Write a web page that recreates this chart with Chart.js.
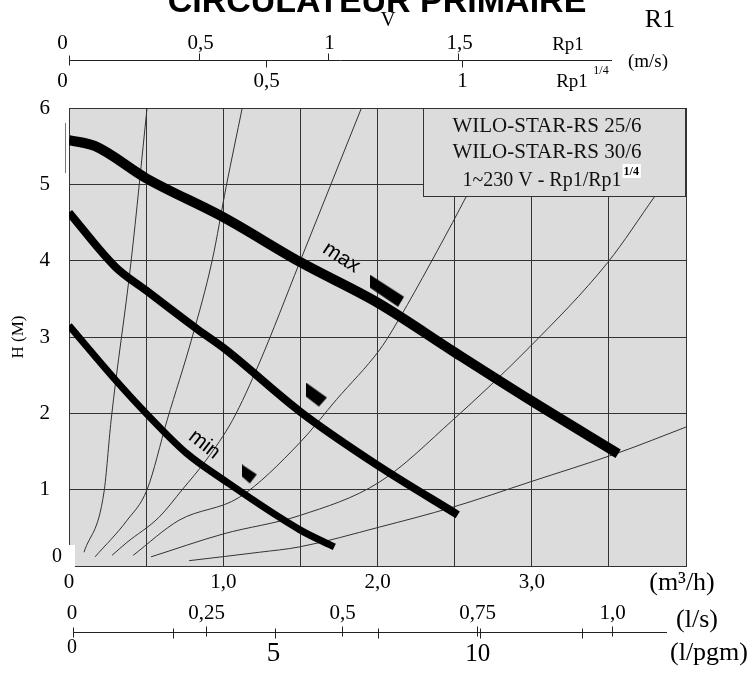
<!DOCTYPE html>
<html><head><meta charset="utf-8">
<script src="https://cdn.jsdelivr.net/npm/chart.js@4/dist/chart.umd.min.js"></script>
<style>html,body{margin:0;padding:0;background:#fff;}canvas{display:block;}</style>
</head><body>
<canvas id="c" width="752" height="673"></canvas>
<script>
// ---- pump curves (flow m3/h, head m) ----
const maxQ = [0, 0.17, 0.5, 1.0, 1.5, 2.0, 2.5, 3.0, 3.56];
const maxH = [5.58, 5.5, 5.08, 4.57, 3.98, 3.45, 2.8, 2.16, 1.47];
const midQ = [0, 0.3, 0.5, 0.84, 1.0, 1.5, 2.0, 2.52];
const midH = [4.63, 3.92, 3.61, 3.09, 2.86, 2.02, 1.32, 0.67];
const minQ = [0, 0.3, 0.5, 0.76, 1.0, 1.5, 1.72];
const minH = [3.15, 2.44, 2.0, 1.48, 1.13, 0.47, 0.25];
// ---- system curves ----
const sysAQ = [0.097, 0.227, 0.273, 0.403, 0.506];
const sysAH = [0.18, 0.97, 1.91, 4.0, 6.0];
const sysBQ = [0.169, 0.377, 0.506, 0.636, 0.799, 0.929, 1.019, 1.123];
const sysBH = [0.12, 0.60, 1.0, 1.91, 3.0, 4.01, 4.97, 6.0];
const sysCQ = [0.279, 0.37, 0.584, 0.734, 0.89, 1.06, 1.234, 1.494, 1.896];
const sysCH = [0.14, 0.30, 0.64, 1.0, 1.39, 1.91, 2.66, 3.97, 6.0];
const sysDQ = [0.416, 0.714, 1.104, 1.494, 1.734, 2.013, 2.097, 2.487, 2.578, 2.9];
const sysDH = [0.14, 0.60, 0.90, 1.61, 2.18, 2.83, 3.09, 4.5, 4.85, 6.0];
const sysEQ = [0.532, 1.0, 1.494, 2.013, 2.487, 2.987, 3.494, 3.8];
const sysEH = [0.12, 0.42, 0.66, 1.10, 1.91, 2.87, 3.98, 4.85];
const sysFQ = [0.779, 1.234, 1.494, 2.013, 2.487, 2.987, 3.558, 4.0];
const sysFH = [0.07, 0.18, 0.25, 0.51, 0.77, 1.10, 1.48, 1.82];
// ---- best-point markers ----
const markQ = [2.065, 1.607, 1.172];
const markH = [3.60, 2.24, 1.20];
// ---- tick labels ----
const flowTickValues = [0, 1, 2, 3];
const flowTickLabels = ['0', '1,0', '2,0', '3,0'];
const lsValues = [0, 0.25, 0.5, 0.75, 1.0];
const lsLabels = ['0', '0,25', '0,5', '0,75', '1,0'];
const gpmTicks = [0, 2.5, 5, 7.5, 10, 12.5];
const gpmLabelValues = [0, 5, 10];
const gpmLabels = ['0', '5', '10'];
const vRp1Values = [0, 0.5, 1, 1.5];
const vRp1Labels = ['0', '0,5', '1', '1,5'];
const vRp114Values = [0, 0.5, 1];
const vRp114Labels = ['0', '0,5', '1'];
// conversion factors to m3/h as drawn on the sheet
const Q_PER_LS = 3.51, Q_PER_GPM = 0.265, Q_PER_MS_RP1 = 1.68, Q_PER_MS_RP114 = 2.55;

const SERIF = "'Liberation Serif', 'Times New Roman', serif";
const SANS = "'Liberation Sans', Arial, sans-serif";
const pts = (q, h) => q.map((v, i) => ({x: v, y: h[i]}));

function mkMarker(w, h, poly) {
  const c = document.createElement('canvas'); c.width = w; c.height = h;
  const g = c.getContext('2d'); g.fillStyle = '#000'; g.beginPath();
  poly.forEach((p, i) => i ? g.lineTo(p[0], p[1]) : g.moveTo(p[0], p[1]));
  g.closePath(); g.fill(); return c;
}
const markerStyles = [
  mkMarker(35, 33, [[0,0],[0,13],[28,32],[34,22]]),
  mkMarker(22, 25, [[0,0],[0,14],[13,24],[21,15]]),
  mkMarker(16, 20, [[0,0],[0,12],[8,19],[15,10]])
];

const thick = (q, h, w) => ({data: pts(q, h), borderColor: '#000', borderWidth: w, pointRadius: 0, cubicInterpolationMode: 'monotone', fill: false, borderCapStyle: 'butt', borderJoinStyle: 'round', order: 1});
const thin = (q, h) => ({data: pts(q, h), borderColor: '#333', borderWidth: 1, pointRadius: 0, cubicInterpolationMode: 'monotone', fill: false, order: 2});

const decor = {
  id: 'decor',
  beforeDraw(chart) {
    const {ctx, chartArea: a} = chart;
    ctx.save(); ctx.fillStyle = '#dcdcdc';
    ctx.fillRect(a.left, a.top, a.right - a.left, a.bottom - a.top);
    ctx.restore();
  },
  afterDatasetsDraw(chart) {
    const {ctx, chartArea: a, scales} = chart;
    const xs = scales.x, ys = scales.y;
    ctx.save();
    // curve labels
    ctx.fillStyle = '#000'; ctx.font = '21px ' + SANS; ctx.textAlign = 'center'; ctx.textBaseline = 'middle';
    ctx.save(); ctx.translate(xs.getPixelForValue(1.766), ys.getPixelForValue(4.04)); ctx.rotate(33 * Math.PI / 180); ctx.fillText('max', 0, 0); ctx.restore();
    ctx.save(); ctx.translate(xs.getPixelForValue(0.877), ys.getPixelForValue(1.59)); ctx.rotate(38 * Math.PI / 180); ctx.fillText('min', 0, 0); ctx.restore();
    // legend box
    const bl = 423, bb = 196;
    ctx.fillStyle = '#dcdcdc'; ctx.fillRect(bl, a.top, a.right - bl, bb - a.top);
    ctx.strokeStyle = '#333'; ctx.lineWidth = 1; ctx.strokeRect(bl + 0.5, a.top + 0.5, a.right - bl - 1, bb - a.top);
    ctx.fillStyle = '#111'; ctx.font = '21px ' + SERIF;
    ctx.fillText('WILO-STAR-RS 25/6', 547, 126);
    ctx.fillText('WILO-STAR-RS 30/6', 547, 152);
    ctx.textAlign = 'left'; ctx.font = '20px ' + SERIF;
    const t3 = '1~230 V - Rp1/Rp1'; const w3 = ctx.measureText(t3).width;
    const x3 = 542 - w3 / 2;
    ctx.fillText(t3, x3, 181);
    ctx.font = 'bold 12px ' + SERIF;
    const ws = ctx.measureText('1/4').width;
    ctx.fillStyle = '#fff'; ctx.fillRect(x3 + w3 + 1, 164, ws + 3, 14);
    ctx.fillStyle = '#000'; ctx.fillText('1/4', x3 + w3 + 2, 172);
    // white corner with 0
    ctx.fillStyle = '#fff'; ctx.fillRect(45, 545, 30, 22);
    ctx.fillStyle = '#000'; ctx.font = '20px ' + SERIF; ctx.textAlign = 'center';
    ctx.fillText('0', 57, 557);
    // small side mark
    ctx.strokeStyle = '#777'; ctx.beginPath(); ctx.moveTo(65.5, 123); ctx.lineTo(65.5, 173); ctx.stroke();
    ctx.restore();
  },
  afterDraw(chart) {
    const {ctx, scales} = chart;
    const xs = scales.x;
    const px = q => xs.getPixelForValue(q);
    ctx.save();
    ctx.fillStyle = '#000'; ctx.strokeStyle = '#222'; ctx.lineWidth = 1;
    ctx.textAlign = 'center'; ctx.textBaseline = 'middle';
    // title
    ctx.font = 'bold 34px ' + SANS; ctx.textBaseline = 'alphabetic';
    ctx.fillText('CIRCULATEUR PRIMAIRE', 377, 12);
    ctx.textBaseline = 'middle';
    ctx.font = '21px ' + SERIF; ctx.fillText('V', 388, 20);
    ctx.font = '26px ' + SERIF; ctx.fillText('R1', 660, 20);
    // top velocity axis
    const ty = 60.5;
    ctx.beginPath(); ctx.moveTo(px(0), ty); ctx.lineTo(612, ty); ctx.stroke();
    ctx.beginPath(); ctx.moveTo(px(0) + 0.5, ty - 5); ctx.lineTo(px(0) + 0.5, ty + 5); ctx.stroke();
    ctx.font = '21px ' + SERIF;
    vRp1Values.forEach((v, i) => {
      const x = Math.round(px(v * Q_PER_MS_RP1)) + 0.5;
      if (v > 0) { ctx.beginPath(); ctx.moveTo(x, ty); ctx.lineTo(x, ty - 7); ctx.stroke(); }
      ctx.fillText(vRp1Labels[i], v === 0 ? x - 7 : x + 1, 43);
    });
    vRp114Values.forEach((v, i) => {
      const x = Math.round(px(v * Q_PER_MS_RP114)) + 0.5;
      if (v > 0) { ctx.beginPath(); ctx.moveTo(x, ty); ctx.lineTo(x, ty + 7); ctx.stroke(); }
      ctx.fillText(vRp114Labels[i], v === 0 ? x - 7 : x, 81);
    });
    ctx.font = '19px ' + SERIF;
    ctx.fillText('Rp1', 568, 45);
    ctx.fillText('Rp1', 572, 82);
    ctx.font = '12px ' + SERIF; ctx.fillText('1/4', 601, 71);
    ctx.font = '19px ' + SERIF; ctx.fillText('(m/s)', 648, 62);
    // bottom axes
    ctx.font = '26px ' + SERIF;
    ctx.fillText('(m\u00B3/h)', 682, 583);
    ctx.fillText('(l/s)', 697, 620);
    ctx.fillText('(l/pgm)', 709, 653);
    const by = 632.5;
    ctx.beginPath(); ctx.moveTo(73, by); ctx.lineTo(667, by); ctx.stroke();
    ctx.beginPath(); ctx.moveTo(73.5, by - 5); ctx.lineTo(73.5, by + 5); ctx.stroke();
    ctx.font = '21px ' + SERIF;
    lsValues.forEach((v, i) => {
      const x = Math.round(px(v * Q_PER_LS)) + 2.5;
      if (v > 0) { ctx.beginPath(); ctx.moveTo(x, by - 6); ctx.lineTo(x, by + 4); ctx.stroke(); }
      ctx.fillText(lsLabels[i], v === 0 ? 72 : x, 613);
    });
    gpmTicks.forEach(g => {
      if (g === 0) return;
      const x = Math.round(px(g * Q_PER_GPM)) + 2.5;
      ctx.beginPath(); ctx.moveTo(x, by - 4); ctx.lineTo(x, by + 6); ctx.stroke();
    });
    const gpmSizes = [20, 27, 25];
    gpmLabelValues.forEach((g, i) => {
      ctx.font = gpmSizes[i] + 'px ' + SERIF;
      const x = g === 0 ? 72 : px(g * Q_PER_GPM);
      ctx.fillText(gpmLabels[i], x, g === 0 ? 648 : 654);
    });
    ctx.restore();
  }
};

new Chart(document.getElementById('c'), {
  type: 'line',
  data: {
    datasets: [
      thick(maxQ, maxH, 10),
      thick(midQ, midH, 8),
      thick(minQ, minH, 7),
      thin(sysAQ, sysAH), thin(sysBQ, sysBH), thin(sysCQ, sysCH),
      thin(sysDQ, sysDH), thin(sysEQ, sysEH), thin(sysFQ, sysFH),
      {data: pts(markQ, markH), showLine: false, pointStyle: markerStyles, pointRadius: 10, pointHoverRadius: 10, order: 0}
    ]
  },
  options: {
    responsive: false, animation: false, devicePixelRatio: 1,
    layout: {padding: {left: 0, right: 66, top: 108, bottom: 0}},
    plugins: {legend: {display: false}, tooltip: {enabled: false}},
    events: [],
    scales: {
      x: {
        type: 'linear', min: 0, max: 4,
        afterFit(s) { s.height = 107; },
        grid: {color: '#333', lineWidth: 1, drawTicks: false},
        border: {color: '#333'},
        ticks: {stepSize: 0.5, padding: 4, autoSkip: false, maxRotation: 0, color: '#000',
          font: {family: SERIF, size: 21},
          callback: v => { const i = flowTickValues.indexOf(v); return i >= 0 ? flowTickLabels[i] : ''; }}
      },
      y: {
        type: 'linear', min: 0, max: 6,
        afterFit(s) { s.width = 69; },
        grid: {color: '#333', lineWidth: 1, drawTicks: false},
        border: {color: '#333'},
        ticks: {stepSize: 1, padding: 19, color: '#000', font: {family: SERIF, size: 21},
          callback: v => v === 0 ? '' : String(v)},
        title: {display: true, text: 'H (M)', color: '#000', font: {family: SERIF, size: 17}, padding: {top: 8, bottom: 0}}
      }
    }
  },
  plugins: [decor]
});
</script>
</body></html>
